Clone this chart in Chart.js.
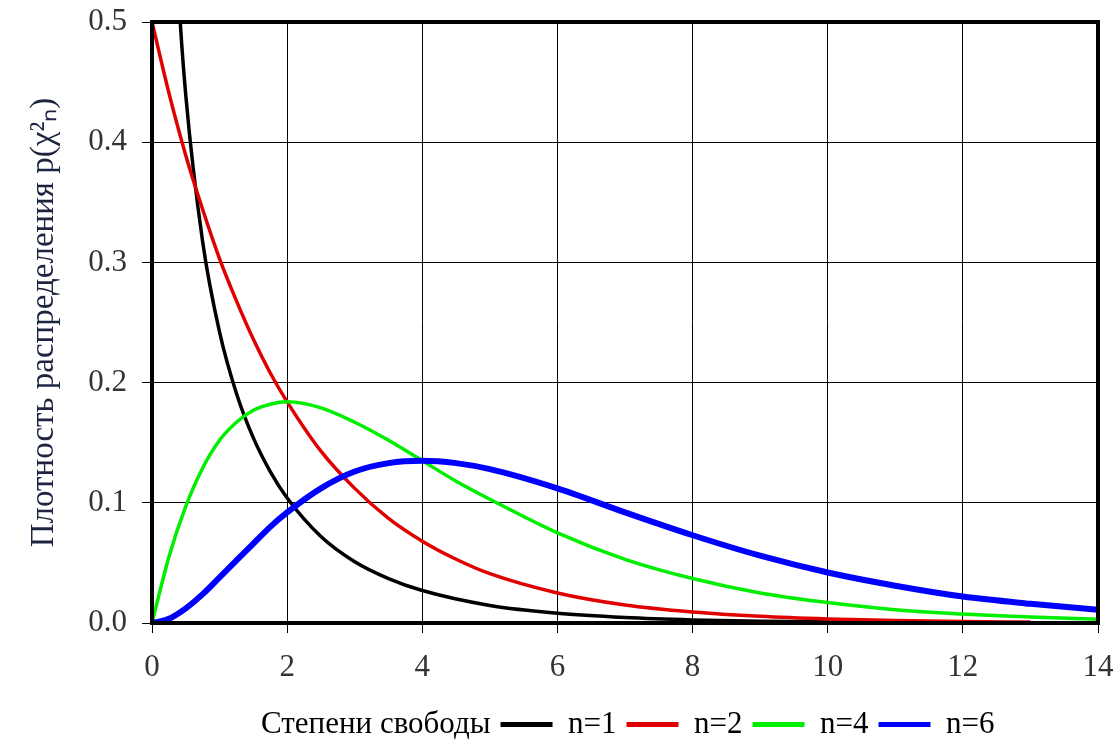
<!DOCTYPE html>
<html>
<head>
<meta charset="utf-8">
<script src="https://cdn.jsdelivr.net/npm/chart.js@4"></script>
<style>
    html, body { margin: 0; padding: 0; background: #fff; }
    #wrap { width: 1119px; height: 750px; }
</style>
</head>
<body>
<div id="wrap"><canvas id="chi-chart" width="1119" height="750"></canvas></div>
<script>
// значения
const xN1 = [0.2, 0.3, 0.4, 0.5, 0.75, 1, 1.25, 1.5, 1.75, 2, 2.5, 3, 3.5, 4, 5, 6, 7, 8, 9, 10, 11, 12, 13, 14];
const yN1 = [0.807, 0.627, 0.516, 0.439, 0.317, 0.242, 0.191, 0.154, 0.126, 0.104, 0.072, 0.051, 0.037, 0.027, 0.0146, 0.0081, 0.0046, 0.0026, 0.0015, 0.0009, 0.0005, 0.0003, 0.0002, 0.0001];

const xGrid = [0, 0.25, 0.5, 0.75, 1, 1.25, 1.5, 1.75, 2, 2.5, 3, 3.5, 4, 4.5, 5, 6, 7, 8, 9, 10, 11, 12, 13, 14];
const yN2 = [0.5, 0.441, 0.389, 0.344, 0.303, 0.268, 0.236, 0.208, 0.184, 0.143, 0.112, 0.087, 0.068, 0.053, 0.041, 0.025, 0.015, 0.0092, 0.0056, 0.0034, 0.0020, 0.0012, 0.0008];
const yN4 = [0, 0.055, 0.097, 0.129, 0.152, 0.167, 0.177, 0.182, 0.184, 0.179, 0.167, 0.152, 0.135, 0.118, 0.103, 0.075, 0.053, 0.037, 0.025, 0.017, 0.011, 0.0074, 0.0049, 0.0032];
const yN6 = [0, 0.0035, 0.0122, 0.024, 0.038, 0.052, 0.066, 0.080, 0.092, 0.112, 0.126, 0.133, 0.135, 0.133, 0.128, 0.112, 0.092, 0.073, 0.056, 0.042, 0.031, 0.022, 0.016, 0.011];

const seriesLabels = ['n=1', 'n=2', 'n=4', 'n=6'];
const seriesColors = ['#000000', '#e00000', '#00ee00', '#0000ff'];
const xTicks = [0, 2, 4, 6, 8, 10, 12, 14];
const yTicks = [0, 0.1, 0.2, 0.3, 0.4, 0.5];

const FONT = 'Liberation Serif, Times New Roman, serif';
const LEGEND_SHIFT = 34;

function toPoints(xs, ys) {
    return ys.map((y, i) => ({ x: xs[i], y: y }));
}

// рамка вокруг области построения
const frameBox = {
    id: 'frameBox',
    afterDatasetsDraw(chart) {
        const a = chart.chartArea;
        const ctx = chart.ctx;
        ctx.save();
        ctx.strokeStyle = '#000';
        ctx.lineWidth = 4;
        ctx.strokeRect(a.left, a.top, a.right - a.left, a.bottom - a.top);
        ctx.restore();
    }
};

// сдвиг легенды вправо, как на исходной картинке
const legendShift = {
    id: 'legendShift',
    afterLayout(chart) {
        if (chart.legend) {
            chart.legend.left += LEGEND_SHIFT;
            chart.legend.right += LEGEND_SHIFT;
        }
    }
};

const datasets = [
    { data: toPoints(xN1, yN1), borderWidth: 3.5, order: 4 },
    { data: toPoints(xGrid, yN2), borderWidth: 3.5, order: 3 },
    { data: toPoints(xGrid, yN4), borderWidth: 3.5, order: 2 },
    { data: toPoints(xGrid, yN6), borderWidth: 6, order: 1 }
].map((d, i) => ({
    ...d,
    label: seriesLabels[i],
    borderColor: seriesColors[i],
    backgroundColor: seriesColors[i],
    pointRadius: 0,
    fill: false,
    cubicInterpolationMode: 'monotone'
}));

new Chart(document.getElementById('chi-chart'), {
    type: 'line',
    data: { datasets },
    options: {
        responsive: false,
        animation: false,
        layout: { padding: { left: 22, right: 21, top: 22, bottom: 0 } },
        plugins: {
            tooltip: { enabled: false },
            legend: {
                position: 'bottom',
                labels: {
                    color: '#000',
                    font: { family: FONT, size: 31 },
                    boxWidth: 52,
                    boxHeight: 5,
                    padding: 10,
                    generateLabels: (chart) => {
                        const items = [{
                            text: 'Степени свободы',
                            fillStyle: 'rgba(0,0,0,0)',
                            strokeStyle: 'rgba(0,0,0,0)',
                            lineWidth: 0,
                            hidden: false,
                            datasetIndex: -1
                        }];
                        chart.data.datasets.forEach((ds, i) => {
                            items.push({
                                text: ds.label,
                                fillStyle: ds.borderColor,
                                strokeStyle: ds.borderColor,
                                lineWidth: 0,
                                hidden: false,
                                datasetIndex: i
                            });
                        });
                        return items;
                    }
                }
            }
        },
        scales: {
            x: {
                type: 'linear',
                min: 0,
                max: 14,
                afterBuildTicks: (scale) => { scale.ticks = xTicks.map(v => ({ value: v })); },
                afterFit: (scale) => {
                    scale.height = 76;
                    scale.paddingLeft = 0;
                    scale.paddingRight = 0;
                },
                ticks: {
                    color: '#333',
                    font: { family: FONT, size: 31 },
                    padding: 16,
                    maxRotation: 0
                },
                grid: { color: '#000', lineWidth: 1, tickLength: 10 },
                border: { color: '#000', width: 4 }
            },
            y: {
                min: 0,
                max: 0.5,
                afterBuildTicks: (scale) => { scale.ticks = yTicks.map(v => ({ value: v })); },
                afterFit: (scale) => {
                    scale.width = 130;
                    scale.paddingTop = 0;
                    scale.paddingBottom = 0;
                },
                ticks: {
                    color: '#333',
                    font: { family: FONT, size: 31 },
                    padding: 15,
                    callback: (v) => v.toFixed(1)
                },
                grid: { color: '#000', lineWidth: 1, tickLength: 10 },
                border: { color: '#000', width: 4 },
                title: {
                    display: true,
                    text: 'Плотность распределения p(χ²ₙ)',
                    color: '#1c2440',
                    font: { family: FONT, size: 33 },
                    padding: { top: 3, bottom: 3 }
                }
            }
        }
    },
    plugins: [frameBox, legendShift]
});
</script>
</body>
</html>
